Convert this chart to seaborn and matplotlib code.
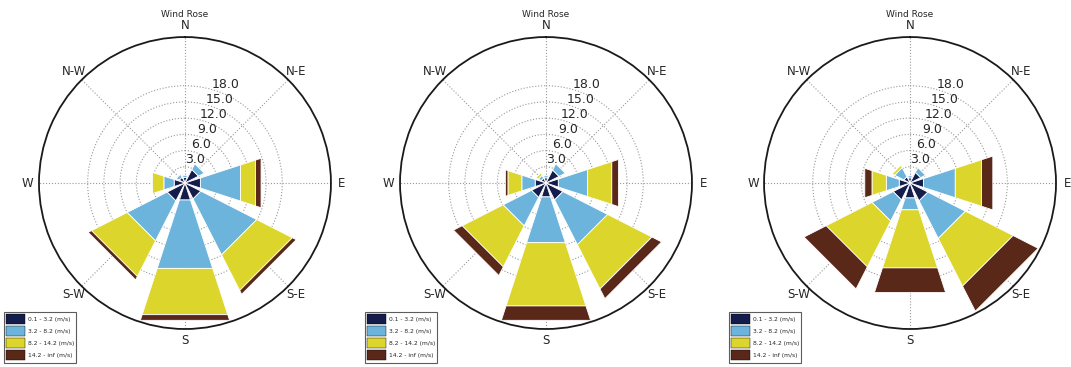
import numpy as np
import matplotlib
matplotlib.use("Agg")
import matplotlib.pyplot as plt
import seaborn as sns

# wind directions (compass, clockwise from north)
directions = ['N', 'N-E', 'E', 'S-E', 'S', 'S-W', 'W', 'N-W']
speed_bins = ['0.1 - 3.2 (m/s)', '3.2 - 8.2 (m/s)', '8.2 - 14.2 (m/s)', '14.2 - inf (m/s)']
ring_values = [3.0, 6.0, 9.0, 12.0, 15.0, 18.0]

# frequency per speed bin for each direction (N, NE, E, SE, S, SW, W, NW)
rose1_bin1 = [1.1, 2.8, 3.0, 3.3, 3.3, 3.7, 2.1, 1.2]
rose1_bin2 = [0.4, 1.2, 7.8, 11.6, 13.3, 8.3, 2.0, 0.6]
rose1_bin3 = [0.0, 0.0, 2.9, 7.4, 9.0, 7.4, 2.2, 0.0]
rose1_bin4 = [0.0, 0.0, 1.1, 0.8, 1.1, 0.7, 0.0, 0.0]

rose2_bin1 = [1.0, 2.7, 2.4, 3.5, 2.7, 3.0, 2.1, 1.0]
rose2_bin2 = [0.4, 1.3, 5.7, 9.3, 8.9, 5.9, 2.6, 0.6]
rose2_bin3 = [0.0, 0.0, 4.7, 9.2, 12.3, 8.5, 2.7, 0.5]
rose2_bin4 = [0.0, 0.0, 1.3, 2.0, 2.8, 1.8, 0.5, 0.0]

rose3_bin1 = [1.0, 2.2, 2.6, 3.7, 2.9, 3.5, 2.1, 1.3]
rose3_bin2 = [0.4, 1.0, 6.2, 7.8, 2.3, 4.4, 2.5, 1.9]
rose3_bin3 = [0.0, 0.0, 5.1, 9.9, 11.3, 9.5, 2.8, 0.5]
rose3_bin4 = [0.0, 0.0, 2.2, 5.2, 4.8, 4.6, 1.4, 0.0]

roses = [
    [rose1_bin1, rose1_bin2, rose1_bin3, rose1_bin4],
    [rose2_bin1, rose2_bin2, rose2_bin3, rose2_bin4],
    [rose3_bin1, rose3_bin2, rose3_bin3, rose3_bin4],
]

sns.set_style("white")
colors = sns.color_palette(['#141c4c', '#6db4dc', '#dcd62c', '#5a2819'])
plt.rcParams['font.family'] = ['DejaVu Sans']

fig = plt.figure(figsize=(10.71, 3.67), dpi=100)
rmax = 27.0
angles = np.deg2rad(np.arange(0, 360, 45))
half = np.deg2rad(45 * 0.8) / 2
lefts = [0.0364, 0.3735, 0.7134]

for left, rose in zip(lefts, roses):
    ax = fig.add_axes([left, 0.1035, 0.2726, 0.7956], projection='polar')
    ax.set_theta_zero_location('N')
    ax.set_theta_direction(-1)

    bottom = np.zeros(len(directions))
    handles = []
    for values, color, label in zip(rose, colors, speed_bins):
        top = bottom + np.array(values)
        for th, b, t in zip(angles, bottom, top):
            if t <= b:
                continue
            ax.fill([th - half, th + half, th + half, th - half],
                    [b, b, t, t], facecolor=color, edgecolor='white', linewidth=0.6, zorder=2)
        handles.append(plt.Rectangle((0, 0), 1, 1, facecolor=color, edgecolor='black', linewidth=0.3))
        bottom = top

    ax.set_ylim(0, rmax)
    ax.set_xticks(angles)
    ax.set_xticklabels(directions, fontsize=8.5)
    ax.tick_params(axis='x', pad=-2.5)
    ax.set_rgrids(ring_values, labels=['' for v in ring_values])
    for v in ring_values:
        ax.text(np.deg2rad(22.5), v + 1.65, f'{v:.1f}', ha='center', va='center', fontsize=9, zorder=3)
    ax.grid(True, linestyle=':', color='#999999', linewidth=0.8)
    ax.spines['polar'].set_linewidth(1.3)
    ax.spines['polar'].set_color('#1a1a1a')
    ax.set_axisbelow(True)

    ax.text(0.5, 1.07, 'Wind Rose', transform=ax.transAxes, ha='center', va='baseline', fontsize=6.5)

    leg = ax.legend(handles, speed_bins, loc='lower left', bbox_to_anchor=(-0.12, -0.115),
                    borderaxespad=0, fontsize=4.3, frameon=True, fancybox=False,
                    handlelength=3.2, handleheight=2.2, labelspacing=0.35,
                    handletextpad=0.4, borderpad=0.35)
    leg.get_frame().set_edgecolor('#333333')
    leg.get_frame().set_linewidth(0.8)

fig.savefig('out.png', dpi=100)
